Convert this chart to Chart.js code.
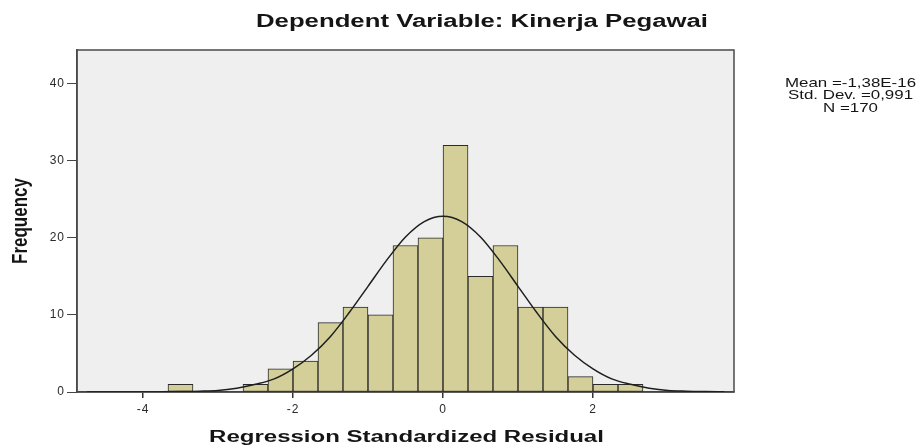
<!DOCTYPE html>
<html>
<head>
<meta charset="utf-8">
<title>Histogram - Kinerja Pegawai</title>
<script src="https://cdn.jsdelivr.net/npm/chart.js@4/dist/chart.umd.min.js"></script>
<style>
  html, body { margin: 0; padding: 0; background: #ffffff; }
  #wrap { width: 921px; height: 448px; }
</style>
</head>
<body>
<div id="wrap"><canvas id="histChart" width="921" height="448"></canvas></div>
<script>
// histogram bins (centre of each bin, bin width 1/3)
const binCenters = [-3.5, -2.5, -2.167, -1.833, -1.5, -1.167, -0.833, -0.5, -0.167,
  0.167, 0.5, 0.833, 1.167, 1.5, 1.833, 2.167, 2.5];
const counts = [1, 1, 3, 4, 9, 11, 10, 19, 20, 32, 15, 19, 11, 11, 2, 1, 1];

// normal curve
const curveX = [-4.75, -4.5, -4.25, -4, -3.75, -3.5, -3.25, -3, -2.75, -2.5, -2.25, -2,
  -1.75, -1.5, -1.25, -1, -0.75, -0.5, -0.25, 0, 0.25, 0.5, 0.75, 1, 1.25, 1.5,
  1.75, 2, 2.25, 2.5, 2.75, 3, 3.25, 3.5, 3.75];
const curveY = [0, 0, 0, 0, 0.02, 0.05, 0.1, 0.2, 0.5, 1.0, 1.7, 3.0, 4.8, 7.2, 10.3,
  13.7, 17.1, 20.1, 22.1, 22.8, 22.1, 20.1, 17.1, 13.7, 10.3, 7.2, 4.8, 3.0, 1.7,
  1.0, 0.5, 0.2, 0.1, 0.05, 0.02];

const xTicks = [-4, -2, 0, 2];
const yTicks = [0, 10, 20, 30, 40];

const chartTitle = "Dependent Variable: Kinerja Pegawai";
const xTitle = "Regression Standardized Residual";
const yTitle = "Frequency";
const statsLines = ["Mean =-1,38E-16", "Std. Dev. =0,991", "N =170"];

const fontFamily = "'Liberation Sans', Arial, sans-serif";

// text in the source picture is stretched sideways, so draw it scaled
function wideText(ctx, text, x, y, font, sx, rotate) {
  ctx.save();
  ctx.letterSpacing = "0px";
  ctx.translate(x, y);
  ctx.scale(sx, 1);
  if (rotate) ctx.rotate(-Math.PI / 2);
  ctx.font = font;
  ctx.fillStyle = "#151515";
  ctx.textAlign = "center";
  ctx.textBaseline = "alphabetic";
  ctx.fillText(text, 0, 0);
  ctx.restore();
}

// grey plot background + frame
const plotBox = {
  id: "plotBox",
  beforeDraw(chart) {
    const { ctx, chartArea: a } = chart;
    ctx.letterSpacing = "1px";
    ctx.save();
    ctx.fillStyle = "#efefef";
    ctx.fillRect(a.left, a.top, a.width, a.height);
    ctx.restore();
  },
  beforeDatasetsDraw(chart) {
    const { ctx, chartArea: a } = chart;
    ctx.save();
    ctx.strokeStyle = "#4a4a4a";
    ctx.lineWidth = 1.5;
    ctx.strokeRect(a.left, a.top, a.width, a.height);
    ctx.restore();
  },
};

// titles and the stats box
const labelsPlugin = {
  id: "labelsPlugin",
  afterDraw(chart) {
    const { ctx, chartArea: a } = chart;
    wideText(ctx, chartTitle, 482, 26.5, "bold 18px " + fontFamily, 1.43, false);
    wideText(ctx, xTitle, (a.left + a.right) / 2 + 1, 442, "bold 16px " + fontFamily, 1.5, false);
    wideText(ctx, yTitle, 27, (a.top + a.bottom) / 2, "bold 17px " + fontFamily, 1.3, true);
    statsLines.forEach((line, i) => {
      wideText(ctx, line, 850.5, 86.5 + i * 12.8, "13px " + fontFamily, 1.3, false);
    });
  },
};

const ctx = document.getElementById("histChart").getContext("2d");
const histChart = new Chart(ctx, {
  type: "bar",
  data: {
    datasets: [
      {
        type: "line",
        label: "Normal",
        data: curveX.map((x, i) => ({ x: x, y: curveY[i] })),
        borderColor: "#1e1e1e",
        borderWidth: 1.5,
        pointRadius: 0,
        fill: false,
        cubicInterpolationMode: "monotone",
        order: 0,
      },
      {
        type: "bar",
        label: "Frequency",
        data: binCenters.map((x, i) => ({ x: x, y: counts[i] })),
        backgroundColor: "#d4cf98",
        borderColor: "#2a2a2a",
        borderWidth: 1,
        borderSkipped: false,
        barPercentage: 1,
        categoryPercentage: 1,
        order: 1,
      },
    ],
  },
  options: {
    responsive: false,
    animation: false,
    layout: {
      padding: { top: 50, right: 187, left: 0, bottom: 0 },
    },
    plugins: {
      legend: { display: false },
      title: { display: false },
      tooltip: { enabled: false },
    },
    scales: {
      x: {
        type: "linear",
        offset: false,
        min: -4.88,
        max: 3.88,
        afterFit: (scale) => { scale.height = 56; },
        afterBuildTicks: (scale) => {
          scale.ticks = xTicks.map((v) => ({ value: v }));
        },
        grid: {
          offset: false,
          drawOnChartArea: false,
          drawTicks: true,
          tickLength: 6,
          color: "#333333",
          lineWidth: 1.5,
        },
        border: { display: true, color: "#333333", width: 1.5 },
        ticks: {
          color: "#2a2a2a",
          padding: 4,
          font: { family: fontFamily, size: 12 },
        },
      },
      y: {
        min: 0,
        max: 44.35,
        afterFit: (scale) => { scale.width = 77; },
        afterBuildTicks: (scale) => {
          scale.ticks = yTicks.map((v) => ({ value: v }));
        },
        grid: {
          drawOnChartArea: false,
          drawTicks: true,
          tickLength: 10,
          color: "#444444",
          lineWidth: 1,
        },
        border: { display: true, color: "#444444", width: 1.5 },
        ticks: {
          color: "#2a2a2a",
          padding: 2,
          font: { family: fontFamily, size: 12 },
        },
      },
    },
  },
  plugins: [plotBox, labelsPlugin],
});
</script>
</body>
</html>
